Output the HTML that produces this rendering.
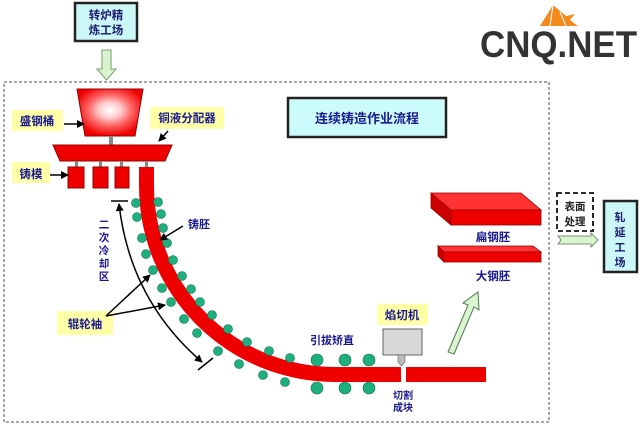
<!DOCTYPE html>
<html><head><meta charset="utf-8"><style>
html,body{margin:0;padding:0;background:#fff;width:640px;height:426px;overflow:hidden}
svg{display:block}
text{font-family:"Liberation Sans","Noto Sans CJK SC",sans-serif;font-weight:bold}
</style></head><body>
<svg width="640" height="426" viewBox="0 0 640 426" xmlns="http://www.w3.org/2000/svg">
<defs>
<radialGradient id="lad" cx="50%" cy="45%" r="55%">
<stop offset="0" stop-color="#fff"/><stop offset="0.3" stop-color="#fcc"/><stop offset="0.6" stop-color="#f66"/><stop offset="1" stop-color="#e00"/>
</radialGradient>
<marker id="ah" markerWidth="8" markerHeight="8" refX="7" refY="4" orient="auto" markerUnits="userSpaceOnUse"><path d="M0,0 L8,4 L0,8 z" fill="#000"/></marker>
<marker id="ahs" markerWidth="8" markerHeight="8" refX="1" refY="4" orient="auto" markerUnits="userSpaceOnUse"><path d="M8,0 L0,4 L8,8 z" fill="#000"/></marker>
</defs>

<!-- logo -->
<path d="M553,5 L566,16 L575,14 L570,20 L578,26 L540,26 Z" fill="#f28a1e"/>
<path d="M553,5 L550,26 M560,12 L566,26" stroke="#fff" stroke-width="1"/>
<text x="480" y="57" font-size="37" fill="#333" textLength="157" lengthAdjust="spacingAndGlyphs" font-family="Liberation Sans">CNQ.NET</text>

<!-- top box -->
<rect x="75" y="3" width="62" height="38" fill="#ccf7f7" stroke="#222" stroke-width="2.5"/>
<text x="106" y="19" font-size="11.5" fill="#1a1a70" text-anchor="middle">转炉精</text>
<text x="106" y="34" font-size="11.5" fill="#1a1a70" text-anchor="middle">炼工场</text>
<path d="M102,50 L111,50 L111,69 L116,69 L106.5,80 L97,69 L102,69 Z" fill="#d9f5d0" stroke="#7a9a70" stroke-width="1"/>

<!-- dashed frame -->
<rect x="4" y="82" width="545" height="340" fill="none" stroke="#888" stroke-width="1.5" stroke-dasharray="3,2"/>

<!-- title -->
<rect x="288" y="98" width="158" height="39" fill="#ccfbfb" stroke="#222" stroke-width="2.5"/>
<text x="367" y="123" font-size="13" fill="#1a1a90" text-anchor="middle">连续铸造作业流程</text>

<!-- ladle -->
<path d="M77,89 L143,89 L135,136 L85,136 Z" fill="url(#lad)" stroke="#900" stroke-width="1"/>
<rect x="109" y="136" width="4" height="10" fill="#888"/>
<path d="M53,145 L172,145 L165,161 L60,161 Z" fill="#e00" stroke="#900" stroke-width="1"/>
<rect x="75" y="161" width="3" height="6" fill="#888"/>
<rect x="99" y="161" width="3" height="6" fill="#888"/>
<rect x="120" y="161" width="3" height="6" fill="#888"/>
<rect x="145" y="161" width="3" height="6" fill="#888"/>
<rect x="68" y="167" width="16" height="21" fill="#e00" stroke="#900"/>
<rect x="93" y="167" width="15" height="21" fill="#e00" stroke="#900"/>
<rect x="115" y="167" width="14" height="21" fill="#e00" stroke="#900"/>

<!-- strand -->
<path d="M139,167 L154,167 L154,186 A181,181 0 0 0 335,367 L401,367 L401,382 L335,382 A196,196 0 0 1 139,186 Z" fill="#e00"/>
<rect x="406" y="367" width="80" height="15" fill="#e00"/>

<!-- rollers -->
<g fill="#1fae7e" stroke="#127050" stroke-width="0.6">
<circle cx="136" cy="203" r="4.5"/><circle cx="137" cy="217" r="4.5"/><circle cx="142" cy="238" r="4.5"/><circle cx="146" cy="254" r="4.5"/><circle cx="153" cy="270" r="4.5"/><circle cx="162" cy="288" r="4.5"/><circle cx="171" cy="302" r="4.5"/><circle cx="184" cy="319" r="4.5"/><circle cx="197" cy="333" r="4.5"/><circle cx="218" cy="351" r="4.5"/><circle cx="239" cy="364" r="4.5"/><circle cx="263" cy="375" r="4.5"/><circle cx="285" cy="382" r="4.5"/>
<circle cx="158" cy="202" r="4.5"/><circle cx="161" cy="214" r="4.5"/><circle cx="163" cy="228" r="4.5"/><circle cx="167" cy="243" r="4.5"/><circle cx="173" cy="260" r="4.5"/><circle cx="182" cy="276" r="4.5"/><circle cx="191" cy="289" r="4.5"/><circle cx="200" cy="302" r="4.5"/><circle cx="212" cy="315" r="4.5"/><circle cx="228" cy="329" r="4.5"/><circle cx="247" cy="342" r="4.5"/><circle cx="269" cy="351" r="4.5"/><circle cx="290" cy="358" r="4.5"/>
<circle cx="317" cy="360" r="6"/><circle cx="317" cy="388" r="6"/><circle cx="345" cy="360" r="6"/><circle cx="345" cy="388" r="6"/><circle cx="369" cy="360" r="6"/><circle cx="369" cy="388" r="6"/>
</g>

<!-- labels yellow -->
<rect x="12" y="110" width="51" height="21" fill="#ffffa8"/>
<text x="37" y="125" font-size="11.5" fill="#1a1a90" text-anchor="middle">盛钢桶</text>
<line x1="64" y1="124" x2="84" y2="124" stroke="#000" stroke-width="1.5" marker-end="url(#ah)"/>
<rect x="150" y="107" width="74" height="22" fill="#ffffa8"/>
<text x="187" y="122" font-size="11.5" fill="#1a1a90" text-anchor="middle">铜液分配器</text>
<line x1="168" y1="131" x2="159" y2="141" stroke="#000" stroke-width="1.5" marker-end="url(#ah)"/>
<rect x="12" y="162" width="38" height="21" fill="#ffffa8"/>
<text x="31" y="178" font-size="11.5" fill="#1a1a90" text-anchor="middle">铸模</text>
<line x1="50" y1="175" x2="68" y2="175" stroke="#000" stroke-width="1.5" marker-end="url(#ah)"/>
<rect x="57" y="311" width="56" height="24" fill="#ffffa8"/>
<text x="85" y="328" font-size="11.5" fill="#1a1a90" text-anchor="middle">辊轮袖</text>
<line x1="106" y1="316" x2="150" y2="275" stroke="#000" stroke-width="1.5" marker-end="url(#ah)"/>
<line x1="106" y1="316" x2="165" y2="305" stroke="#000" stroke-width="1.5" marker-end="url(#ah)"/>

<text x="199" y="228" font-size="11" fill="#1a1a90" text-anchor="middle">铸胚</text>
<line x1="183" y1="226" x2="160" y2="240" stroke="#000" stroke-width="1.5" marker-end="url(#ah)"/>

<!-- secondary cooling -->
<g font-size="10.5" fill="#1a1a90" text-anchor="middle">
<text x="104" y="228">二</text><text x="104" y="241">次</text><text x="104" y="254">冷</text><text x="104" y="267">却</text><text x="104" y="280">区</text>
</g>
<line x1="111" y1="201" x2="128" y2="201" stroke="#000" stroke-width="1.5"/>
<path d="M119,204 Q130,300 202,362" fill="none" stroke="#000" stroke-width="1.5" marker-start="url(#ahs)" marker-end="url(#ah)"/>
<line x1="198" y1="370" x2="213" y2="358" stroke="#000" stroke-width="1.5"/>

<!-- straightening / cutter -->
<text x="332" y="344" font-size="11" fill="#1a1a90" text-anchor="middle">引拔矫直</text>
<rect x="377" y="304" width="51" height="21" fill="#ffffa8"/>
<text x="402" y="319" font-size="11.5" fill="#1a1a90" text-anchor="middle">焰切机</text>
<rect x="383" y="329" width="39" height="26" fill="#d8d8d8" stroke="#666" stroke-width="1"/>
<path d="M398,355 L405,355 L405,362 L401.5,366 L398,362 Z" fill="#bbb" stroke="#666" stroke-width="0.6"/>
<text x="403" y="399" font-size="10" fill="#1a1a90" text-anchor="middle">切割</text>
<text x="403" y="411" font-size="10" fill="#1a1a90" text-anchor="middle">成块</text>

<!-- up arrow -->
<path d="M448,352 L468,305 L463,303 L478,292 L479,310 L474,307 L454,354 Z" fill="#d9f5d0" stroke="#557755" stroke-width="1"/>

<!-- plates -->
<path d="M431,193 L521,193 L541,210 L451,210 Z" fill="#f33" stroke="#900" stroke-width="0.8"/>
<path d="M431,193 L451,210 L451,225 L431,208 Z" fill="#c00" stroke="#900" stroke-width="0.8"/>
<rect x="451" y="210" width="90" height="15" fill="#e00" stroke="#900" stroke-width="0.8"/>
<text x="493" y="241" font-size="11.5" fill="#1a1a90" text-anchor="middle">扁钢胚</text>
<path d="M438,246 L533,246 L541,252 L444,252 Z" fill="#f33" stroke="#900" stroke-width="0.8"/>
<path d="M438,246 L444,252 L444,262 L438,256 Z" fill="#c00" stroke="#900" stroke-width="0.8"/>
<rect x="444" y="252" width="97" height="10" fill="#e00" stroke="#900" stroke-width="0.8"/>
<text x="493" y="280" font-size="11.5" fill="#1a1a90" text-anchor="middle">大钢胚</text>

<!-- right side -->
<rect x="557" y="193" width="36" height="38" fill="#fff" stroke="#111" stroke-width="1.8" stroke-dasharray="5,3"/>
<text x="575" y="210" font-size="10.5" fill="#222" text-anchor="middle">表面</text>
<text x="575" y="225" font-size="10.5" fill="#222" text-anchor="middle">处理</text>
<path d="M558,236 L591,236 L591,233 L598,240 L591,247 L591,244 L558,244 L561,240 Z" fill="#d9f5d0" stroke="#557755" stroke-width="0.8"/>
<rect x="604" y="201" width="33" height="71" fill="#ccf7f7" stroke="#222" stroke-width="2.5"/>
<g font-size="11" fill="#1a1a70" text-anchor="middle">
<text x="620" y="221">轧</text><text x="620" y="236">延</text><text x="620" y="251">工</text><text x="620" y="266">场</text>
</g>
</svg>
</body></html>
